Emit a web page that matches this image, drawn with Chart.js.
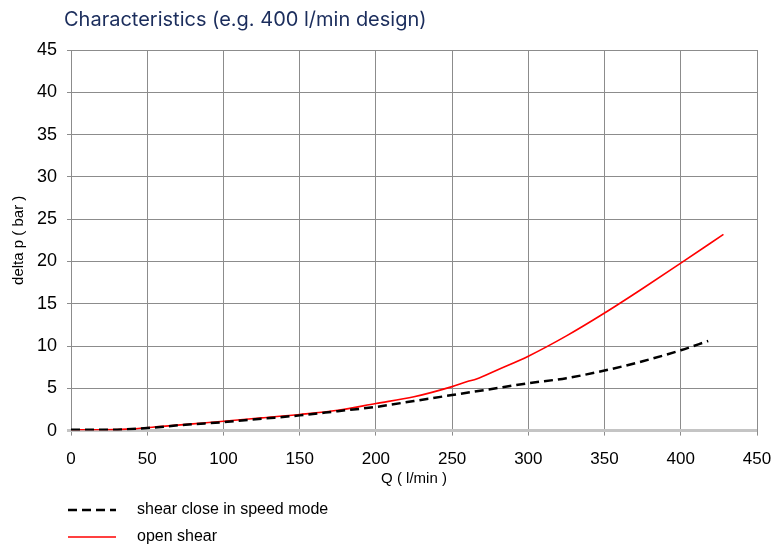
<!DOCTYPE html>
<html>
<head>
<meta charset="utf-8">
<script src="https://cdn.jsdelivr.net/npm/chart.js@4.4.0/dist/chart.umd.min.js"></script>
<style>
  html, body { margin: 0; padding: 0; background: #fff; }
  #wrap { width: 778px; height: 546px; position: relative; }
</style>
</head>
<body>
<div id="wrap"><canvas id="myChart" width="778" height="546"></canvas></div>
<script>
// data
const chartTitle = "Characteristics (e.g. 400 l/min design)"
const seriesNames = ["shear close in speed mode", "open shear"]
const closeQ = [0, 25, 50, 75, 100, 125, 150, 175, 200, 225, 250, 275, 300, 325, 350, 375, 400, 418]
const closeP = [0.1, 0.1, 0.3, 0.7, 1.0, 1.4, 1.8, 2.3, 2.8, 3.5, 4.2, 4.9, 5.6, 6.2, 7.1, 8.2, 9.5, 10.6]
const openQ = [0, 20, 40, 60, 80, 100, 125, 150, 175, 200, 225, 250, 260, 266, 280, 300, 325, 350, 375, 400, 428]
const openP = [0.1, 0.1, 0.2, 0.5, 0.8, 1.1, 1.5, 1.9, 2.4, 3.2, 4.0, 5.2, 5.8, 6.1, 7.2, 8.8, 11.2, 13.9, 16.8, 19.8, 23.2]
const xTicks = [0, 50, 100, 150, 200, 250, 300, 350, 400, 450]
const yTicks = [0, 5, 10, 15, 20, 25, 30, 35, 40, 45]

const sans = "'Liberation Sans', Arial, sans-serif"

function toPoints(xs, ys) {
  return xs.map((x, i) => ({ x: x, y: ys[i] }))
}

// title top-left and legend under the axis title, one item per row
const extras = {
  id: "extras",
  afterDraw(chart) {
    const ctx = chart.ctx
    ctx.save()
    ctx.fillStyle = "#1b2d5c"
    ctx.font = "20px Inter, 'Open Sans', sans-serif"
    ctx.textBaseline = "middle"
    ctx.fillText(chartTitle, 64, 20)

    chart.data.datasets.forEach((ds, i) => {
      const y = 510 + i * 27
      ctx.beginPath()
      ctx.strokeStyle = ds.borderColor
      ctx.lineWidth = ds.borderWidth
      ctx.setLineDash(ds.borderDash || [])
      ctx.moveTo(68, y)
      ctx.lineTo(116, y)
      ctx.stroke()
      ctx.setLineDash([])
      ctx.fillStyle = "#000"
      ctx.font = "16px " + sans
      ctx.fillText(ds.label, 137, y)
    })
    ctx.restore()
  },
}

const ctx = document.getElementById("myChart").getContext("2d")
const myChart = new Chart(ctx, {
  type: "scatter",
  data: {
    datasets: [
      {
        label: seriesNames[0],
        data: toPoints(closeQ, closeP),
        showLine: true,
        borderColor: "#000",
        borderWidth: 2.5,
        borderDash: [9, 5],
        pointRadius: 0,
        cubicInterpolationMode: "monotone",
      },
      {
        label: seriesNames[1],
        data: toPoints(openQ, openP),
        showLine: true,
        borderColor: "#ff0000",
        borderWidth: 1.6,
        pointRadius: 0,
        cubicInterpolationMode: "monotone",
      },
    ],
  },
  options: {
    responsive: false,
    animation: false,
    layout: { padding: { top: 50, left: 10, right: 21, bottom: 58 } },
    plugins: {
      legend: { display: false },
      tooltip: { enabled: false },
    },
    scales: {
      x: {
        type: "linear",
        min: 0,
        max: 450,
        afterBuildTicks: (s) => { s.ticks = xTicks.map((v) => ({ value: v })) },
        afterFit: (s) => { s.paddingRight = 0 },
        ticks: { color: "#000", font: { family: sans, size: 17 }, padding: 14 },
        grid: {
          color: "#8c8c8c",
          lineWidth: 1,
          tickLength: 5,
        },
        border: { display: false },
        title: {
          display: true,
          text: "Q ( l/min )",
          color: "#000",
          font: { family: sans, size: 15 },
          padding: { top: -14, bottom: 0 },
        },
      },
      y: {
        type: "linear",
        min: 0,
        max: 45,
        afterBuildTicks: (s) => { s.ticks = yTicks.map((v) => ({ value: v })) },
        afterFit: (s) => { s.width = 61 },
        ticks: { color: "#000", font: { family: sans, size: 18 }, padding: 10 },
        grid: {
          color: (c) => (c.tick && c.tick.value === 0 ? "#c4c4c4" : "#8c8c8c"),
          lineWidth: (c) => (c.tick && c.tick.value === 0 ? 3 : 1),
          tickLength: 4,
        },
        border: { display: false },
        title: {
          display: true,
          text: "delta p ( bar )",
          color: "#000",
          font: { family: sans, size: 15 },
          padding: { top: 0, bottom: 2 },
        },
      },
    },
  },
  plugins: [extras],
})
</script>
</body>
</html>
